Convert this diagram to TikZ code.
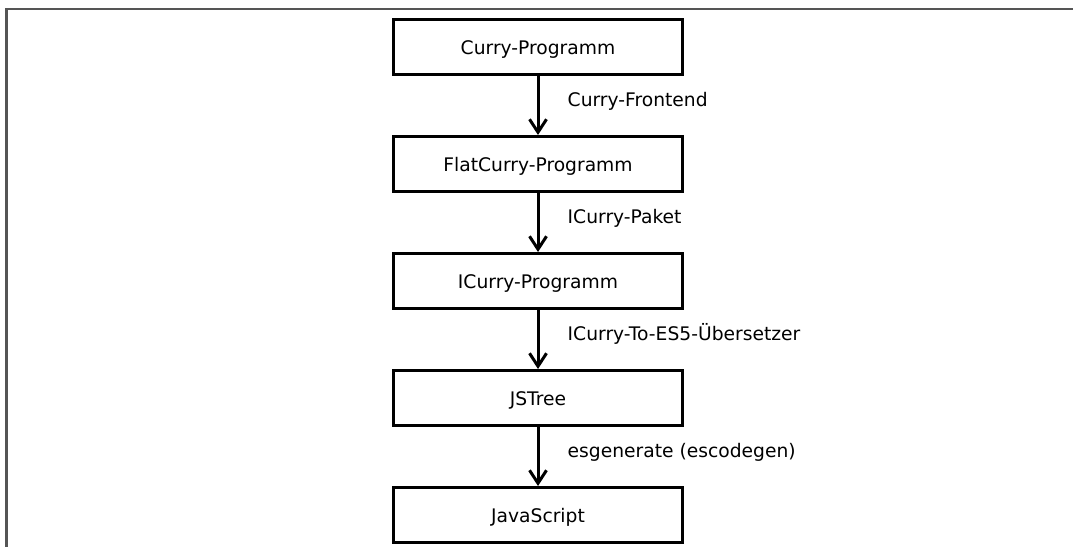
\documentclass[tikz,border=0pt]{standalone}
\usepackage{fontspec}
\setmainfont{DejaVu Sans}
\usetikzlibrary{arrows.meta}
\definecolor{framegray}{HTML}{555555}
\tikzset{
  stage/.style={draw=black, line width=3pt, minimum width=289pt, minimum height=55pt,
    inner sep=0pt, text height=14.6pt, text depth=0pt,
    font=\fontsize{18.7}{22}\selectfont},
  flow/.style={line width=3pt, -{Straight Barb[length=13pt, width=17pt, line width=3pt]}},
  steplabel/.style={anchor=base west, inner sep=0pt, font=\fontsize{18.7}{22}\selectfont}
}
\begin{document}
\begin{tikzpicture}[x=1pt, y=-1pt]
  \useasboundingbox (0,0) rectangle (1073,546);
  % outer frame, cut off on the right and at the bottom
  \draw[framegray, line width=2.2pt] (6.5,560) -- (6.5,9) -- (1090,9);
  % pipeline stages
  \node[stage] (curry) at (538,47) {Curry-Programm};
  \node[stage] (flat)  at (538,164) {FlatCurry-Programm};
  \node[stage] (icurry) at (538,281) {ICurry-Programm};
  \node[stage] (jstree) at (538,398) {JSTree};
  \node[stage] (js)    at (538,515) {JavaScript};
  % transformations
  \draw[flow] (curry.south) -- (flat.north);
  \draw[flow] (flat.south) -- (icurry.north);
  \draw[flow] (icurry.south) -- (jstree.north);
  \draw[flow] (jstree.south) -- (js.north);
  \node[steplabel] (l1) at (567.5,106) {Curry-Frontend};
  \node[steplabel] (l2) at (567.5,223) {ICurry-Paket};
  \node[steplabel] (l3) at (567.5,340) {ICurry-To-ES5-Übersetzer};
  \node[steplabel] (l4) at (567.5,457) {esgenerate (escodegen)};
\end{tikzpicture}
\end{document}
